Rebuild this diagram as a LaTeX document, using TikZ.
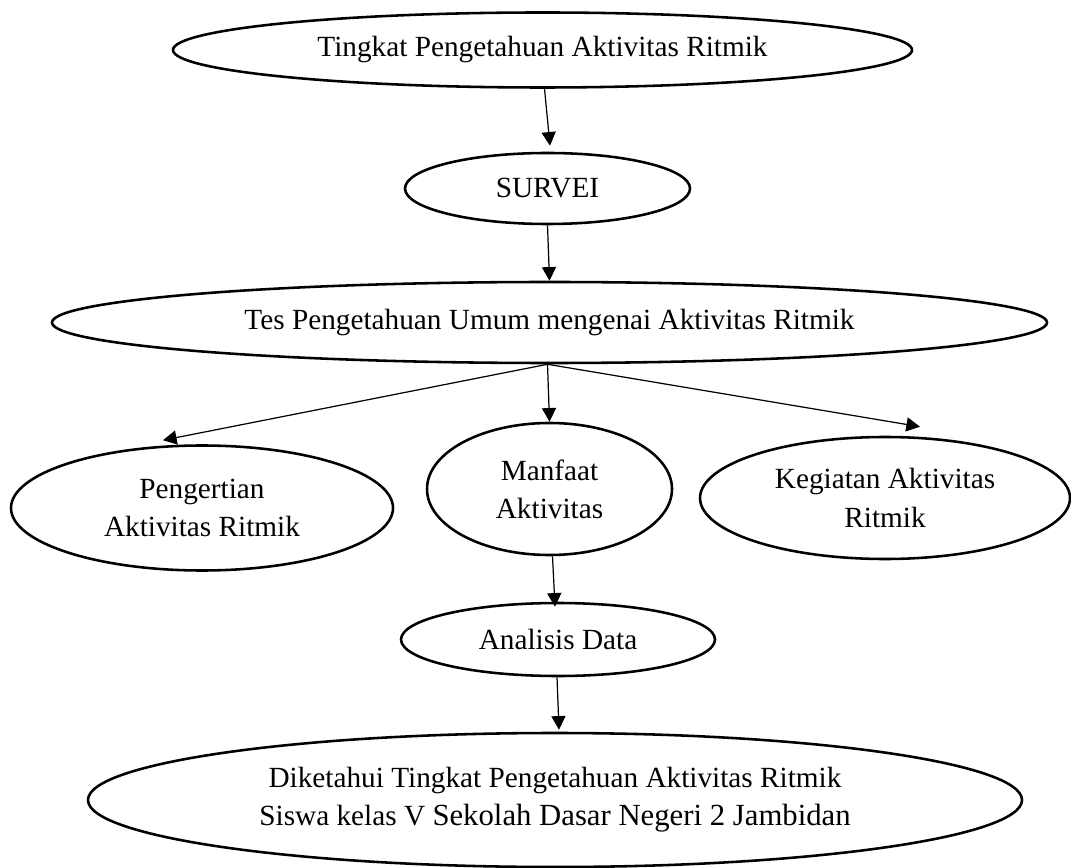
\documentclass[tikz,border=0pt]{standalone}
\usepackage{fontspec}
\setmainfont{Liberation Serif}
\usetikzlibrary{shapes.geometric,arrows.meta}
\begin{document}
\begin{tikzpicture}[x=0.41pt,y=-0.41pt]
\def\px{0.41pt}
\tikzset{base/.style={draw,line width=1.05pt},
oval/.style={base,ellipse,inner sep=0pt,align=center,font=\fontsize{12}{15.6}\selectfont},
every path/.style={>={Triangle[length=5.6pt,width=5.8pt]}},
alur/.style={draw,->,line width=0.5pt}}
\useasboundingbox (0,0) rectangle (1071,868);
\node[oval,minimum width=739*\px,minimum height=75*\px] at (542.5,50) (TKT) {Tingkat Pengetahuan Aktivitas Ritmik};
\node[oval,minimum width=285*\px,minimum height=71*\px] at (547.5,188.5) (SRV) {SURVEI};
\node[oval,minimum width=995*\px,minimum height=81*\px] at (549.5,322.5) (TES) {Tes Pengetahuan Umum mengenai Aktivitas Ritmik};
\node[oval,minimum width=382*\px,minimum height=125*\px] at (202,508) (PGR) {Pengertian\\ Aktivitas Ritmik};
\node[oval,minimum width=245*\px,minimum height=132*\px] at (549.5,489) (MFT) {Manfaat\\ Aktivitas};
\node[oval,minimum width=370*\px,minimum height=122*\px] at (885,498) (KGT) {Kegiatan Aktivitas\\ Ritmik};
\node[oval,minimum width=314*\px,minimum height=73*\px] at (558,639.5) (ANL) {Analisis Data};
\node[oval,minimum width=934*\px,minimum height=134*\px] at (555,800) (HSL) {Diketahui Tingkat Pengetahuan Aktivitas Ritmik\\ Siswa kelas V {\fontsize{12.6}{15.6}\selectfont Sekolah Dasar Negeri 2 Jambidan}};
\path[alur] ([shift={(2,0)}]TKT.south) -- ([shift={(2.5,-6)}]SRV.north);
\path[alur] (SRV.south) -- (TES.north);
\path[alur] ([shift={(-2,0)}]TES.south) -- ([shift={(-39,-4)}]PGR.north);
\path[alur] ([shift={(-2,0)}]TES.south) -- (MFT.north);
\path[alur] ([shift={(-2,0)}]TES.south) -- ([shift={(35,-9)}]KGT.north);
\path[alur] ([shift={(3,0)}]MFT.south) -- ([shift={(-3,5)}]ANL.north);
\path[alur] ([shift={(-1,0)}]ANL.south) -- ([shift={(4,-2)}]HSL.north);
\end{tikzpicture}
\end{document}
